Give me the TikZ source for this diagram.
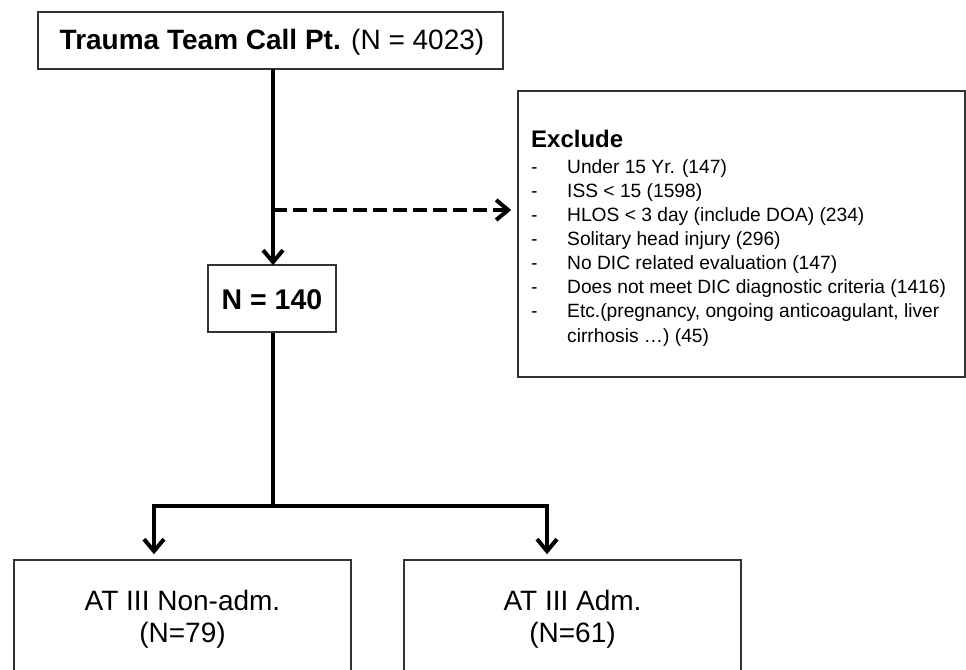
\documentclass[tikz,border=0pt]{standalone}
\usepackage{fontspec}
\setmainfont{Liberation Sans}
\usetikzlibrary{arrows.meta}
\tikzset{
  box/.style={draw=black!80, line width=1.5pt, fill=white, inner sep=0pt},
  conn/.style={line width=4pt, black},
  arr/.style={conn, -{Straight Barb[length=12pt,width=20pt]}},
  txt/.style={inner sep=0pt, anchor=base},
  itemdash/.style={inner sep=0pt, anchor=base west, font=\fontsize{19.2}{22}\selectfont},
  bottxt/.style={txt, font=\fontsize{28}{30}\selectfont},
}
\begin{document}
\begin{tikzpicture}[x=1pt,y=-1pt]
\useasboundingbox (0,0) rectangle (966,669);
% boxes
\node[box, minimum width=465pt, minimum height=57pt] (top) at (270.5,40.5) {};
\node[txt, font=\fontsize{28}{30}\selectfont] (toptxt) at (272,50) {\textbf{Trauma Team Call Pt.} (N = 4023)};
\node[box, minimum width=128pt, minimum height=67pt] (mid) at (272,298.5) {};
\node[txt, font=\fontsize{28.5}{30}\selectfont\bfseries] (midtxt) at (272,309) {N = 140};
\node[box, minimum width=447pt, minimum height=286pt] (excl) at (741.5,234) {};
\node[txt, anchor=base west, font=\fontsize{24}{26}\selectfont\bfseries] (exh) at (531,147) {Exclude};
\foreach \t [count=\i] in {Under 15 Yr. (147), ISS < 15 (1598), HLOS < 3 day (include DOA) (234), Solitary head injury (296), No DIC related evaluation (147), Does not meet DIC diagnostic criteria (1416), {Etc.(pregnancy, ongoing anticoagulant, liver}} {
  \node[itemdash] (d\i) at (531,{173+(\i-1)*24.1}) {-};
  \node[itemdash] (e\i) at (567,{173+(\i-1)*24.1}) {\t};
}
\node[itemdash] (e8) at (567,342) {cirrhosis \dots) (45)};
\node[box, minimum width=337pt, minimum height=140pt] (left) at (182.5,630) {};
\node[bottxt] (lt1) at (182.5,610) {AT III Non-adm.};
\node[bottxt] (lt2) at (182.5,642) {(N=79)};
\node[box, minimum width=337pt, minimum height=140pt] (right) at (572.5,630) {};
\node[bottxt] (rt1) at (572.5,610) {AT III Adm.};
\node[bottxt] (rt2) at (572.5,642) {(N=61)};
% connectors
\coordinate (tb) at (273,69);
\coordinate (br) at (273,210);
\coordinate (split) at (273,506);
\coordinate (ldrop) at (154,506);
\coordinate (rdrop) at (547,506);
\draw[arr, shorten >=-1pt] (tb) -- (tb |- mid.north);
\draw[arr, dashed, dash pattern=on 14pt off 6pt, shorten >=6pt] (br) -- (br -| excl.west);
\draw[conn] (mid.south -| split) -- (split);
\draw[arr, shorten >=5pt] (split) -- (ldrop) -- (ldrop |- left.north);
\draw[arr, shorten >=5pt] (split) -- (rdrop) -- (rdrop |- right.north);
\end{tikzpicture}
\end{document}
